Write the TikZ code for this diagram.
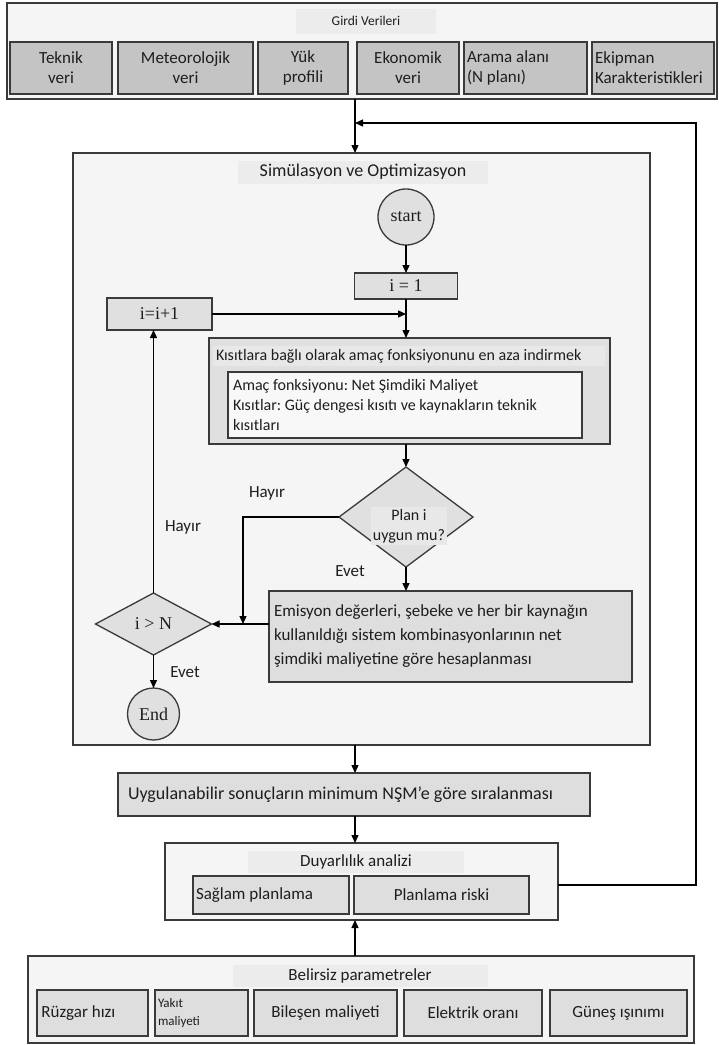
\documentclass[tikz,border=0pt]{standalone}
\usepackage{fontspec}
\setmainfont{Carlito}
\newfontfamily\serifc{Liberation Serif}
\usetikzlibrary{arrows.meta,shapes.geometric}
\definecolor{dk}{HTML}{3A3A3A}
\definecolor{bgl}{HTML}{F5F5F5}
\definecolor{gsub}{HTML}{C4C4C4}
\definecolor{gfl}{HTML}{E0E0E0}
\definecolor{gem}{HTML}{DEDEDE}
\definecolor{glt}{HTML}{F8F8F8}
\definecolor{bandc}{HTML}{ECECEC}
\definecolor{glab}{HTML}{E8E8E8}
\definecolor{txt}{HTML}{1E1E1E}
\newcommand{\myfs}[2]{\fontsize{#1}{#2}\selectfont}
\frenchspacing
\begin{document}
\begin{tikzpicture}[x=1pt,y=-1pt,
  every node/.style={text=txt, outer sep=0pt},
  outerbox/.style={draw=dk, fill=bgl, line width=1.6pt, inner sep=0pt},
  subbox/.style={draw=dk, fill=gsub, line width=1.5pt, inner sep=0pt, align=center, font=\myfs{17}{20}},
  flowbox/.style={draw=dk, fill=gfl, line width=1.3pt, inner sep=0pt},
  lowbox/.style={draw=dk, fill=gem, line width=1.4pt, inner sep=0pt, align=center, font=\myfs{17}{20}},
  titleband/.style={fill=bandc, inner sep=0pt},
  lab/.style={font=\myfs{17}{20}, inner sep=1pt},
  serifnode/.style={font=\serifc\myfs{18}{20}},
  arr/.style={-{Triangle[length=8pt,width=7pt]}, line width=1.3pt, draw=black}
]
\fill[white] (0,0) rectangle (719,1045);
\useasboundingbox (0,0) rectangle (719,1045);

% ---------- Girdi Verileri ----------
\node[outerbox, minimum width=710pt, minimum height=96pt] (girdi) at (362,51) {};
\node[titleband, minimum width=140pt, minimum height=25pt, font=\myfs{13.5}{15}] (girdiT) at (366,21) {Girdi Verileri};
\node[subbox, minimum width=102pt, minimum height=52pt] (t1) at (61,68) {Teknik\\veri};
\node[subbox, minimum width=135pt, minimum height=52pt] (t2) at (185.5,68) {Meteorolojik\\veri};
\node[subbox, minimum width=90pt, minimum height=52pt] (t3) at (303,68) {Yük\\profili};
\node[subbox, minimum width=102pt, minimum height=52pt] (t4) at (408,68) {Ekonomik\\veri};
\node[subbox, minimum width=123pt, minimum height=52pt, text width=117pt, inner xsep=3pt, align=flush left] (t5) at (525.5,68) {Arama alanı\\(N planı)};
\node[subbox, minimum width=122pt, minimum height=52pt, text width=116pt, inner xsep=3pt, align=flush left] (t6) at (653,68) {Ekipman\\Karakteristikleri};

% ---------- Simulation ----------
\coordinate (colA) at (355,123);
\node[outerbox, line width=1.5pt, minimum width=577pt, minimum height=592pt] (sim) at (361.5,449) {};
\node[titleband, minimum width=250pt, minimum height=23pt, font=\myfs{18}{20}] (simT) at (363,172) {Simülasyon ve Optimizasyon};

\node[circle, draw=dk, fill=gfl, line width=1.3pt, minimum size=56pt, inner sep=0pt, serifnode] (start) at (406,217) {start};
\node[flowbox, minimum width=103pt, minimum height=26pt, serifnode] (i1) at (406,286) {i = 1};
\node[flowbox, minimum width=105pt, minimum height=32pt, serifnode] (inc) at (159.5,314) {i=i+1};

\node[flowbox, minimum width=401pt, minimum height=106pt] (kis) at (409.5,391) {};
\node[fill=glab, inner ysep=0pt, inner xsep=3pt, minimum height=20pt, text width=386pt, align=flush left, font=\myfs{16}{18}] (kisT) at (409,356) {Kısıtlara bağlı olarak amaç fonksiyonunu en aza indirmek};
\node[draw=dk, fill=glt, line width=1.3pt, minimum width=354pt, minimum height=66pt, text width=344pt, inner xsep=5pt, inner ysep=0pt, align=flush left, font=\myfs{16}{20}] (kisI) at (405,405) {Amaç fonksiyonu: Net Şimdiki Maliyet\\Kısıtlar: Güç dengesi kısıtı ve kaynakların teknik\\kısıtları};

\node[diamond, draw=dk, fill=gfl, line width=1.3pt, minimum width=134pt, minimum height=100pt, inner sep=0pt] (plan) at (406,517) {};
\node[fill=glab, inner sep=2pt, align=center, font=\myfs{16}{20}] (planT) at (409,526) {Plan i\\uygun mu?};

\node[flowbox, fill=gem, minimum width=363pt, minimum height=91pt, text width=353pt, inner xsep=5pt, align=flush left, font=\myfs{17}{24}] (emis) at (450.5,636.5) {Emisyon değerleri, şebeke ve her bir kaynağın\\kullanıldığı sistem kombinasyonlarının net\\şimdiki maliyetine göre hesaplanması};

\node[diamond, draw=dk, fill=gfl, line width=1.3pt, minimum width=116pt, minimum height=62pt, inner sep=0pt, serifnode] (ineq) at (153.5,624) {i > N};
\node[circle, draw=dk, fill=gfl, line width=1.3pt, minimum size=52pt, inner sep=0pt, serifnode] (end) at (153.5,714) {End};

\node[lab] (h1) at (267,493) {Hayır};
\node[lab] (h2) at (183,527) {Hayır};
\node[lab] (e1) at (350,571) {Evet};
\node[lab] (e2) at (185,672) {Evet};

\coordinate (jn) at (243,624);

% connectors in simulation
\draw[arr] (girdi.south -| colA) -- (sim.north -| colA);
\draw[arr] (start.south) -- (i1.north);
\draw[arr] (i1.south) -- (kis.north -| i1.south);
\draw[arr] (inc.east) -- (inc.east -| i1.south);
\draw[arr] (kis.south -| plan.north) -- (plan.north);
\draw[arr] (plan.south) -- (emis.north -| plan.south);
\draw[arr] (plan.west) -| (jn);
\draw[arr] (emis.west |- ineq.east) -- (ineq.east);
\draw[arr] (ineq.north) -- (inc.south -| ineq.north);
\draw[arr] (ineq.south) -- (end.north);

% ---------- Lower part ----------
\node[flowbox, fill=gem, minimum width=472pt, minimum height=43pt, text width=452pt, inner xsep=10pt, align=flush left, font=\myfs{18}{20}] (uyg) at (354,794.5) {Uygulanabilir sonuçların minimum NŞM'e göre sıralanması};

\node[outerbox, line width=1.5pt, minimum width=393pt, minimum height=77pt] (duy) at (361.5,881.5) {};
\node[titleband, minimum width=216pt, minimum height=22pt, font=\myfs{17}{20}] (duyT) at (356,862) {Duyarlılık analizi};
\node[lowbox, minimum width=156pt, minimum height=38pt, text width=150pt, inner xsep=3pt, align=flush left] (sag) at (271,895) {Sağlam planlama};
\node[lowbox, minimum width=175pt, minimum height=38pt] (risk) at (441.5,895) {Planlama riski};

\node[outerbox, minimum width=666pt, minimum height=87pt] (bel) at (361,999.5) {};
\node[titleband, minimum width=255pt, minimum height=22pt, font=\myfs{17}{20}] (belT) at (360,976) {Belirsiz parametreler};
\node[lowbox, minimum width=111pt, minimum height=46pt, text width=102pt, inner xsep=4.5pt, align=flush left] (b1) at (92.5,1013) {Rüzgar hızı};
\node[lowbox, minimum width=93pt, minimum height=46pt, text width=87pt, inner xsep=3pt, align=flush left, font=\myfs{13}{18}] (b2) at (201.5,1013) {Yakıt\\maliyeti};
\node[lowbox, minimum width=143pt, minimum height=46pt] (b3) at (325.5,1013) {Bileşen maliyeti};
\node[lowbox, minimum width=138pt, minimum height=46pt] (b4) at (473,1013) {Elektrik oranı};
\node[lowbox, minimum width=137pt, minimum height=46pt] (b5) at (618.5,1013) {Güneş ışınımı};

\coordinate (fbR) at (696,885);
\coordinate (fbT) at (696,123);

\draw[arr] (sim.south -| colA) -- (uyg.north -| colA);
\draw[arr] (uyg.south -| colA) -- (duy.north -| colA);
\draw[arr] (bel.north -| colA) -- (duy.south -| colA);
\draw[arr] (duy.east |- fbR) -- (fbR) -- (fbT) -- (colA);
\end{tikzpicture}
\end{document}
